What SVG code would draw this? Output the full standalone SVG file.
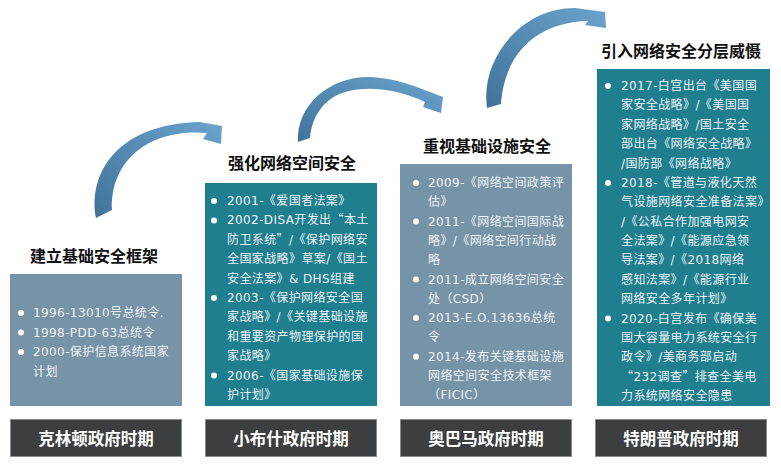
<svg xmlns="http://www.w3.org/2000/svg" width="781" height="464" viewBox="0 0 781 464">
<style>
.title{font-family:"Noto Sans CJK SC","Noto Sans",sans-serif;font-weight:700;font-size:16px;fill:#111;text-anchor:middle}
.era{font-family:"Noto Sans CJK SC","Noto Sans",sans-serif;font-weight:700;font-size:16.5px;fill:#fff;text-anchor:middle}
.body{font-family:"DejaVu Sans","Noto Sans CJK SC",sans-serif;font-size:12px;letter-spacing:0.4px;fill:#eef3f6}
.cj{font-family:"Noto Sans CJK SC",sans-serif}
.grey{fill:#7793a8}
.teal{fill:#1f7f8f}
.dark{fill:#3d3e40;stroke:#8a8a8a;stroke-width:1}
.dot{fill:#ffffff}
.arrow{fill:url(#ag)}
</style>
<defs>
<linearGradient id="ag" x1="0" y1="1" x2="1" y2="0">
<stop offset="0" stop-color="#41739a"/>
<stop offset="1" stop-color="#6aa3cc"/>
</linearGradient>
</defs>
<g id="connectors">
<path class="arrow" d="M96,218 C88,175 115,124 200,122 L222,126 L221,144 L203,139 L207,133 C150,128 110,160 112,210 Z"/>
<path class="arrow" d="M298,142 C296,105 330,76 370,77 C395,78 415,86 443,97 L441,113 L423,107 L425,102 C400,90 370,85 345,92 C325,98 312,115 310,138 Z"/>
<path class="arrow" d="M487,108 C480,60 520,8 575,8 L605,12 L606,28 L585,25 L588,21 C540,22 505,50 501,104 Z"/>
</g>
<g id="clinton">
<text class="title" x="94" y="262">建立基础安全框架</text>
<rect class="grey" x="10" y="274" width="172" height="132"/>
<circle class="dot" cx="21" cy="313" r="3"/>
<circle class="dot" cx="21" cy="332.5" r="3"/>
<circle class="dot" cx="21" cy="352" r="3"/>
<text class="body"><tspan x="33" y="317">1996-13010号总统令.</tspan><tspan x="33" y="336.5">1998-PDD-63总统令</tspan><tspan x="33" y="356">2000-保护信息系统国家</tspan><tspan x="33" y="375.5">计划</tspan></text>
<rect class="dark" x="10.5" y="419.5" width="171" height="37"/>
<text class="era" x="96" y="445">克林顿政府时期</text>
</g>
<g id="bush">
<text class="title" x="292" y="169">强化网络空间安全</text>
<rect class="teal" x="205" y="183" width="172" height="223"/>
<circle class="dot" cx="214" cy="201" r="3"/>
<circle class="dot" cx="214" cy="220.4" r="3"/>
<circle class="dot" cx="214" cy="298" r="3"/>
<circle class="dot" cx="214" cy="375.6" r="3"/>
<text class="body"><tspan x="227" y="205">2001-《爱国者法案》</tspan><tspan x="227" y="224.4">2002-DISA开发出<tspan class="cj">“</tspan>本土</tspan><tspan x="227" y="243.8">防卫系统<tspan class="cj">”</tspan>/《保护网络安</tspan><tspan x="227" y="263.2">全国家战略》草案/《国土</tspan><tspan x="227" y="282.6">安全法案》&amp; DHS组建</tspan><tspan x="227" y="302">2003-《保护网络安全国</tspan><tspan x="227" y="321.4">家战略》/《关键基础设施</tspan><tspan x="227" y="340.8">和重要资产物理保护的国</tspan><tspan x="227" y="360.2">家战略》</tspan><tspan x="227" y="379.6">2006-《国家基础设施保</tspan><tspan x="227" y="399">护计划》</tspan></text>
<rect class="dark" x="205.5" y="419.5" width="171" height="37"/>
<text class="era" x="291" y="445">小布什政府时期</text>
</g>
<g id="obama">
<text class="title" x="487" y="152">重视基础设施安全</text>
<rect class="grey" x="400" y="164" width="172" height="242"/>
<circle class="dot" cx="416" cy="183" r="3"/>
<circle class="dot" cx="416" cy="221.6" r="3"/>
<circle class="dot" cx="416" cy="279.5" r="3"/>
<circle class="dot" cx="416" cy="318.1" r="3"/>
<circle class="dot" cx="416" cy="356.7" r="3"/>
<text class="body"><tspan x="428" y="187">2009-《网络空间政策评</tspan><tspan x="428" y="206.3">估》</tspan><tspan x="428" y="225.6">2011-《网络空间国际战</tspan><tspan x="428" y="244.9">略》/《网络空间行动战</tspan><tspan x="428" y="264.2">略</tspan><tspan x="428" y="283.5">2011-成立网络空间安全</tspan><tspan x="428" y="302.8">处（CSD）</tspan><tspan x="428" y="322.1">2013-E.O.13636总统</tspan><tspan x="428" y="341.4">令</tspan><tspan x="428" y="360.7">2014-发布关键基础设施</tspan><tspan x="428" y="380">网络空间安全技术框架</tspan><tspan x="428" y="399.3">（FICIC）</tspan></text>
<rect class="dark" x="400.5" y="419.5" width="171" height="37"/>
<text class="era" x="486" y="445">奥巴马政府时期</text>
</g>
<g id="trump">
<text class="title" x="681" y="57">引入网络安全分层威慑</text>
<rect class="teal" x="597" y="69" width="173" height="337"/>
<circle class="dot" cx="608" cy="86" r="3"/>
<circle class="dot" cx="608" cy="182.9" r="3"/>
<circle class="dot" cx="608" cy="318.5" r="3"/>
<text class="body"><tspan x="621" y="90">2017-白宫出台《美国国</tspan><tspan x="621" y="109.4">家安全战略》/《美国国</tspan><tspan x="621" y="128.8">家网络战略》/国土安全</tspan><tspan x="621" y="148.1">部出台《网络安全战略》</tspan><tspan x="621" y="167.5">/国防部《网络战略》</tspan><tspan x="621" y="186.9">2018-《管道与液化天然</tspan><tspan x="621" y="206.3">气设施网络安全准备法案》</tspan><tspan x="621" y="225.6">/《公私合作加强电网安</tspan><tspan x="621" y="245">全法案》/《能源应急领</tspan><tspan x="621" y="264.4">导法案》/《2018网络</tspan><tspan x="621" y="283.8">感知法案》/《能源行业</tspan><tspan x="621" y="303.1">网络安全多年计划》</tspan><tspan x="621" y="322.5">2020-白宫发布《确保美</tspan><tspan x="621" y="341.9">国大容量电力系统安全行</tspan><tspan x="621" y="361.3">政令》/美商务部启动</tspan><tspan x="621" y="380.6"><tspan class="cj">“</tspan>232调查<tspan class="cj">”</tspan>排查全美电</tspan><tspan x="621" y="400">力系统网络安全隐患</tspan></text>
<rect class="dark" x="595.5" y="419.5" width="171" height="37"/>
<text class="era" x="681" y="445">特朗普政府时期</text>
</g>
</svg>
